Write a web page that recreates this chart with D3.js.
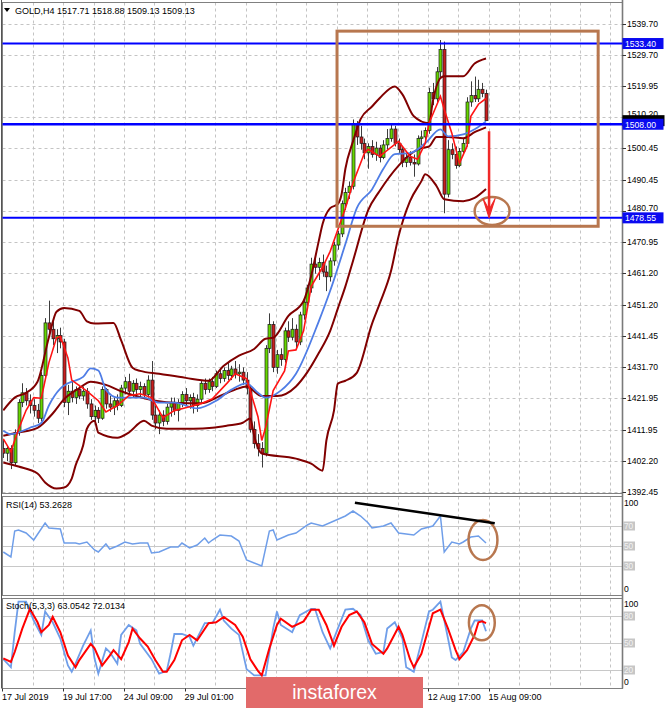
<!DOCTYPE html>
<html>
<head>
<meta charset="utf-8">
<script src="https://cdn.jsdelivr.net/npm/d3@7"></script>
<style>
html,body{margin:0;padding:0;background:#fff;}
svg{display:block;}
text{font-family:"Liberation Sans",Arial,sans-serif;}
</style>
</head>
<body>
<svg id="chart" width="665" height="708"></svg>
<script>
// ---------------- DATA ----------------
const symbolTitle = "GOLD,H4";
const lastQuote = ["1517.71", "1518.88", "1509.13", "1509.13"];

const opens = [1406,1404.5,1406,1401.5,1411,1420.5,1423.5,1421,1419.5,1418,
 1415.5,1429,1445.5,1443.5,1440.5,1441.5,1439.5,1420.5,1424,1422,
 1424.5,1422.5,1424,1420,1416,1418,1415.5,1424.5,1420,1419,
 1421,1419.5,1425,1427,1424,1426.5,1424.5,1425.5,1423,1427.5,
 1416.5,1414,1416.5,1414.5,1419,1420.5,1418,1420.5,1423,1421,
 1422,1419.5,1421.5,1426.5,1424.5,1427,1425.5,1429.5,1428,1430.5,
 1429,1431,1429.5,1430,1427.5,1425,1412,1407.5,1406,1404.5,
 1437.5,1445,1431.5,1435.5,1434,1443,1441,1443.5,1439.5,1448,
 1452,1456.5,1464,1463,1464.5,1461.5,1460,1465,1470,1473.5,
 1483,1486.5,1488.5,1508,1504,1502,1499,1501,1498.5,1500.5,
 1497.5,1501.5,1503.5,1506.5,1502,1500,1496,1497.5,1496,1495.5,
 1503.5,1504,1506,1518,1516,1524.5,1531.5,1486,1500,1498.5,
 1495,1499.5,1502,1515,1517,1516,1519,1517.71];
const highs = [1409,1407,1407,1412,1421.5,1426.5,1425,1423,1421.5,1420,
 1430,1447,1452.5,1446,1443.5,1444,1440.5,1426,1427,1425.5,
 1426,1425.5,1425,1421.5,1419.5,1419,1425.5,1425,1422.5,1422,
 1423,1426,1428.5,1429.5,1427.5,1428,1427,1426.5,1429,1433.5,
 1419.5,1418,1418,1420,1422,1422,1421.5,1424,1425,1423,
 1423.5,1423,1427.5,1428,1428,1428.5,1430.5,1431,1431.5,1433,
 1432,1433.5,1432.5,1431.5,1430,1426,1414.5,1410.5,1408,1438.5,
 1448.5,1446,1437,1437.5,1444,1446,1447,1445,1449,1453,
 1457.5,1466,1466.5,1466,1467,1463.5,1466,1471,1474.5,1484,
 1488,1490,1509.5,1509,1507.5,1503.5,1502,1503,1502.5,1501.5,
 1503,1506.5,1508,1507.5,1503.5,1501,1499,1499.5,1498.5,1504.5,
 1506,1507,1519.5,1521,1526,1534.5,1534,1503,1502,1501,
 1500.5,1503.5,1516.5,1521.5,1523,1522,1521,1518.88];
const lows = [1403,1402,1399.5,1400.5,1410,1419,1419.5,1417,1416,1414,
 1414.5,1428,1441,1438.5,1436,1437.5,1419,1416.5,1420.5,1420,
 1421.5,1421,1418.5,1415,1413.5,1414,1415,1418.5,1417.5,1416.5,
 1418,1419,1423,1422.5,1422,1423,1422,1421.5,1422,1415,
 1412,1410.5,1413,1413.5,1416,1416.5,1414.5,1419,1419.5,1418.5,
 1417,1417.5,1420.5,1423,1423.5,1424,1425,1426.5,1427,1427.5,
 1427.5,1428,1427,1426,1423,1411,1406,1403.5,1400,1403.5,
 1436,1430,1429.5,1432,1433,1439.5,1440,1437.5,1438.5,1446.5,
 1450,1455,1461,1459,1460,1455.5,1458.5,1463.5,1468.5,1472.5,
 1481,1484.5,1487.5,1501.5,1500,1497,1494,1497.5,1496.5,1496,
 1497,1500,1502.5,1501,1499,1494.5,1494.5,1495,1491.5,1495,
 1501.5,1502.5,1505,1514,1515,1522.5,1480,1485,1497,1494,
 1494.5,1498.5,1501,1513.5,1515,1515,1516.5,1509.13];
const closes = [1404.5,1406,1401.5,1411,1420.5,1423.5,1421,1419.5,1418,1415.5,
 1429,1445.5,1443.5,1440.5,1441.5,1439.5,1420.5,1424,1422,1424.5,
 1422.5,1424,1420,1416,1418,1415.5,1424.5,1420,1419,1421,
 1419.5,1425,1427,1424,1426.5,1424.5,1425.5,1423,1427.5,1416.5,
 1414,1416.5,1414.5,1419,1420.5,1418,1420.5,1423,1421,1422,
 1419.5,1421.5,1426.5,1424.5,1427,1425.5,1429.5,1428,1430.5,1429,
 1431,1429.5,1430,1427.5,1425,1412,1407.5,1406,1404.5,1437.5,
 1445,1431.5,1435.5,1434,1443,1441,1443.5,1439.5,1448,1452,
 1456.5,1464,1463,1464.5,1461.5,1460,1465,1470,1473.5,1483,
 1486.5,1488.5,1508,1504,1502,1499,1501,1498.5,1500.5,1497.5,
 1501.5,1503.5,1506.5,1502,1500,1496,1497.5,1496,1495.5,1503.5,
 1504,1506,1518,1516,1524.5,1531.5,1486,1500,1498.5,1495,
 1499.5,1502,1515,1517,1516,1519,1517.71,1509.13];

// indicator lines: [bar, value]
const bbUpper = [[0,1418],[3,1422],[6,1423.5],[9,1427],[12,1441],[14,1449],[16,1450.2],[20,1449.3],[22,1446],[24,1445.3],[29,1445.5],[31,1440],[34,1431.4],[36,1430.4],[41,1429.5],[48,1428.2],[54,1427.3],[58,1432],[62,1435.2],[66,1437.3],[69,1440.5],[71,1440.8],[75,1447.7],[79,1452.4],[81,1460.3],[83,1471.3],[84,1476.6],[86,1481.6],[88,1482.9],[89,1486],[90,1494],[92,1502.6],[94,1509.6],[97,1513.6],[99,1516.2],[103,1519.9],[105,1517.4],[108,1510.5],[112,1508.3],[113,1515.2],[115,1522.5],[116,1523.1],[121,1523.1],[124,1527.1],[127,1528.7]];
const bbMiddle = [[0,1410],[4,1411],[9,1412.5],[13,1417],[16,1421.5],[20,1425],[23,1427],[27,1426],[31,1424],[35,1422.5],[40,1421],[46,1420.3],[52,1420.2],[57,1422.5],[61,1424.5],[64,1425.5],[68,1422.5],[72,1422.5],[77,1425.5],[80,1430],[83,1436],[86,1443],[88,1450],[90,1457],[92,1465],[96,1481],[99,1487],[104,1495],[107,1498.5],[110,1500.5],[112,1501],[114,1504],[117,1504],[121,1503.6],[124,1505.5],[127,1507]];
const bbLower = [[0,1401.6],[4,1400.3],[9,1398.1],[11,1395.3],[14,1393.4],[16,1393.7],[18,1396.5],[19,1400.6],[21,1406.9],[22,1412.2],[24,1414.7],[25,1411],[30,1409.4],[33,1411],[37,1414.7],[39,1413.2],[43,1412.2],[50,1412.2],[55,1412.5],[59,1413.2],[63,1414.1],[65,1415.4],[66,1410],[68,1404.4],[77,1402.8],[81,1401.2],[84,1399],[85,1408.5],[87,1417.9],[88,1426.4],[90,1427.3],[93,1429.8],[97,1445.2],[99,1451.5],[102,1461.8],[104,1472.8],[107,1483.8],[110,1490.1],[111,1492.3],[114,1488.5],[116,1484.4],[121,1483.8],[124,1484.8],[127,1487.6]];
const maBlue = [[0,1411.6],[2,1410.5],[7,1412.5],[10,1414],[12,1419.5],[15,1424.8],[17,1426.5],[21,1428.5],[23,1431.2],[25,1430.5],[27,1424.5],[30,1422],[33,1422],[37,1422],[41,1420.4],[45,1420.4],[51,1418.6],[56,1421],[60,1424.5],[64,1426.5],[67,1423.5],[69,1422],[73,1424.2],[77,1429.5],[83,1446],[86,1455.6],[90,1470.3],[93,1481.6],[97,1487.5],[100,1494],[103,1498.6],[107,1498.9],[111,1502],[115,1506.4],[117,1504.2],[121,1504.8],[124,1506.4],[127,1508.9]];
const maRed = [[0,1409],[2,1405],[4,1412],[6,1418],[8,1422],[10,1421.8],[12,1433],[14,1440.8],[15,1441.2],[17,1434.5],[18,1427.5],[22,1424],[25,1421],[27,1417.5],[30,1419.5],[33,1422.6],[36,1423.2],[39,1422],[42,1415.7],[45,1417.9],[48,1418.8],[52,1420.1],[55,1421.6],[59,1426.7],[61,1429.5],[64,1428],[67,1416],[68,1408.5],[69,1412.5],[71,1424.2],[74,1430.4],[75,1436.7],[77,1437],[79,1443],[81,1457],[84,1463],[86,1468],[90,1481.6],[92,1489.5],[95,1498.9],[96,1500.1],[99,1497.9],[104,1502.6],[107,1497.9],[109,1497],[111,1502],[112,1508.3],[115,1516.8],[116,1512.7],[118,1505.2],[120,1495.7],[122,1501.1],[123,1510.5],[125,1514.3],[127,1516.1]];

const rsiValues = [[0,44],[2,39],[3,65],[4,66],[6,63],[8,56],[11,73],[12,68],[15,67],[16,53],[19,53],[20,52],[22,54],[24,46],[25,44],[27,52],[28,47],[30,50],[32,54],[34,52],[36,53],[38,53],[39,43],[41,44],[44,49],[46,49],[47,53],[49,48],[51,51],[53,58],[54,53],[55,56],[57,61],[60,60],[62,55],[64,36],[66,33],[68,30],[70,65],[71,66],[72,56],[75,61],[77,63],[80,71],[81,73],[84,70],[87,75],[90,80],[92,85],[94,80],[96,73],[97,68],[100,70],[102,73],[104,63],[108,61],[110,67],[113,70],[115,80],[116,44],[118,54],[120,52],[121,54],[123,59],[125,60],[127,53]];
const stochMain = [[0,32],[2,23],[3,62],[4,96],[6,96],[8,75],[10,59],[11,85],[13,73],[15,55],[17,25],[18,18],[19,27],[21,47],[23,64],[24,33],[25,16],[27,44],[28,40],[30,27],[31,59],[33,70],[35,64],[36,49],[39,32],[41,16],[43,19],[44,38],[45,60],[47,60],[49,57],[50,47],[53,72],[55,72],[57,87],[58,75],[60,66],[62,59],[64,21],[66,14],[69,14],[71,66],[72,85],[73,70],[76,62],[78,81],[81,88],[82,88],[84,62],[86,44],[88,66],[90,87],[92,88],[94,81],[96,53],[98,38],[100,40],[101,66],[103,73],[105,55],[106,23],[108,18],[110,51],[112,85],[113,87],[115,96],[117,55],[118,34],[119,31],[121,40],[123,66],[124,75],[125,75],[126,75],[127,63]];
const stochSignal = [[0,33],[2,29],[3,40],[5,66],[7,88],[9,73],[10,62],[12,70],[13,79],[15,62],[17,36],[19,23],[20,31],[23,49],[24,44],[26,25],[28,36],[29,42],[31,32],[33,51],[34,66],[36,55],[38,46],[40,31],[42,18],[43,18],[45,31],[47,53],[49,59],[51,53],[54,72],[56,73],[58,79],[61,70],[63,57],[65,32],[67,19],[68,14],[70,44],[72,70],[73,77],[76,68],[79,74],[81,87],[83,87],[85,70],[87,47],[89,68],[91,81],[93,85],[95,73],[97,49],[100,38],[101,44],[104,68],[105,59],[107,32],[108,23],[110,38],[112,68],[113,83],[115,87],[117,66],[119,42],[120,32],[122,42],[124,59],[125,73],[126,74],[127,72]];

const priceTicks = [1539.70,1529.70,1519.95,1510.20,1500.45,1490.45,1480.70,1470.95,1461.20,1451.20,1441.45,1431.70,1421.95,1411.95,1402.20,1392.45];
const levelPrices = [1533.40, 1508.00, 1478.55];
const bidPrice = 1509.13;
const dateBars = [0, 16, 32, 48, 112, 128];
const dateTexts = ["17 Jul 2019", "19 Jul 17:00", "24 Jul 09:00", "29 Jul 01:00", "12 Aug 17:00", "15 Aug 09:00"];
const rsiLevels = [70, 50, 30];
const stochLevels = [80, 50, 20];
const rsiLabel = "RSI(14) 53.2628";
const stochLabel = "Stoch(5,3,3) 63.0542 72.0134";
// annotations in data units
const boxBars = [87.8, 156.5], boxPrices = [1537.3, 1475.9];
const arrowBar = 127.8, arrowPrices = [1505.8, 1478.6];
const mainEllipse = {bar: 128.6, price: 1480.7, rb: 4.6, rp: 4.4};
const rsiEllipse = {bar: 126.2, value: 56, rb: 3.8, rv: 20};
const stochEllipse = {bar: 125.9, value: 72.5, rb: 3.4, rv: 19.5};
const rsiTrend = [[92.5, 93.3], [129.3, 72.7]];

// ---------------- LAYOUT ----------------
const svg = d3.select("#chart");
const L = 2.5, R = 622.5;
const main = {top: 2.5, bottom: 493.5};
const rsiP = {top: 496.5, bottom: 595.5};
const stP = {top: 598.5, bottom: 688.5};

const x = d3.scaleLinear().domain([0, 160]).range([3.3, 3.3 + 3.801 * 160]);
const y = d3.scaleLinear().domain([1392.45, 1539.70]).range([491.5, 23.5]);
const yR = d3.scaleLinear().domain([0, 100]).range([596, 496]);
const yS = d3.scaleLinear().domain([0, 100]).range([688, 598]);

svg.append("rect").attr("width", 665).attr("height", 708).attr("fill", "#fff");

const gridColor = "#c4c4c4";
const vBars = d3.range(8, 161, 8);
[[main.top, main.bottom], [rsiP.top, rsiP.bottom], [stP.top, stP.bottom]].forEach(([t, b]) => {
  svg.append("g").selectAll("line").data(vBars).join("line")
    .attr("x1", d => Math.round(x(d)) - 0.5).attr("x2", d => Math.round(x(d)) - 0.5)
    .attr("y1", t).attr("y2", b)
    .attr("stroke", gridColor).attr("stroke-dasharray", "3,3");
});
svg.append("g").selectAll("line").data(priceTicks).join("line")
  .attr("x1", L).attr("x2", R)
  .attr("y1", d => Math.round(y(d)) + 0.5).attr("y2", d => Math.round(y(d)) + 0.5)
  .attr("stroke", gridColor).attr("stroke-dasharray", "3,3");

svg.append("g").selectAll("line").data(rsiLevels).join("line")
  .attr("x1", L).attr("x2", R).attr("y1", d => yR(d) + 0.5).attr("y2", d => yR(d) + 0.5)
  .attr("stroke", "#c8c8c8").attr("stroke-width", 1.2);
svg.append("g").selectAll("line").data(stochLevels).join("line")
  .attr("x1", L).attr("x2", R).attr("y1", d => Math.round(yS(d)) + 0.5).attr("y2", d => Math.round(yS(d)) + 0.5)
  .attr("stroke", "#c8c8c8").attr("stroke-width", 1.2);

// ---------------- CANDLES ----------------
const idx = d3.range(opens.length);
const cg = svg.append("g");
cg.selectAll("line").data(idx).join("line")
  .attr("x1", i => Math.round(x(i)) + 0.5).attr("x2", i => Math.round(x(i)) + 0.5)
  .attr("y1", i => y(highs[i])).attr("y2", i => y(lows[i]))
  .attr("stroke", "#3c3c3c").attr("stroke-width", 1);
cg.selectAll("rect").data(idx).join("rect")
  .attr("x", i => Math.round(x(i)) - 1)
  .attr("width", 3)
  .attr("y", i => y(Math.max(opens[i], closes[i])))
  .attr("height", i => Math.max(1, Math.abs(y(opens[i]) - y(closes[i]))))
  .attr("fill", i => closes[i] >= opens[i] ? "#66d600" : "#c81e1e")
  .attr("stroke", "#1a1a1a").attr("stroke-width", 0.7);

// ---------------- INDICATORS ----------------
const lineMain = d3.line().x(d => x(d[0])).y(d => y(d[1])).curve(d3.curveMonotoneX);
[bbUpper, bbMiddle, bbLower].forEach(s => {
  svg.append("path").datum(s).attr("d", lineMain).attr("fill", "none")
    .attr("stroke", "#800000").attr("stroke-width", 2);
});
svg.append("path").datum(maBlue).attr("d", lineMain).attr("fill", "none")
  .attr("stroke", "#4f7de6").attr("stroke-width", 1.8);
svg.append("path").datum(maRed).attr("d", d3.line().x(d => x(d[0])).y(d => y(d[1])))
  .attr("fill", "none").attr("stroke", "#ff1414").attr("stroke-width", 1.6);

const lineR = d3.line().x(d => x(d[0])).y(d => yR(d[1]));
svg.append("path").datum(rsiValues).attr("d", lineR).attr("fill", "none")
  .attr("stroke", "#6f9ee9").attr("stroke-width", 1.5);
const lineS = d3.line().x(d => x(d[0])).y(d => yS(d[1]));
svg.append("path").datum(stochMain).attr("d", lineS).attr("fill", "none")
  .attr("stroke", "#6f9ee9").attr("stroke-width", 1.8);
svg.append("path").datum(stochSignal).attr("d", lineS).attr("fill", "none")
  .attr("stroke", "#ff0000").attr("stroke-width", 2);

// ---------------- PANEL FRAMES ----------------
[[main.top, main.bottom], [rsiP.top, rsiP.bottom], [stP.top, stP.bottom]].forEach(([t, b]) => {
  svg.append("rect").attr("x", L).attr("y", t).attr("width", R - L).attr("height", b - t)
    .attr("fill", "none").attr("stroke", "#808080").attr("stroke-width", 1);
});
svg.append("line").attr("x1", R).attr("x2", R).attr("y1", 0).attr("y2", stP.bottom)
  .attr("stroke", "#7a7a7a").attr("stroke-width", 1.6);
svg.append("line").attr("x1", 1.5).attr("x2", 1.5).attr("y1", 0).attr("y2", stP.bottom)
  .attr("stroke", "#555").attr("stroke-width", 1);

// ---------------- AXES TEXT ----------------
const axisFont = 8.6;
const labelBase = p => y(p) + 3.2;
// a tick label that collides with a level box is nudged up so it stays readable above it
function tickBase(p) {
  let b = labelBase(p);
  levelPrices.forEach(lp => {
    const lb = y(lp) + 3.3;
    if (Math.abs(lb - b) < 10.5) b = Math.min(b, lb - 10.5);
  });
  return b;
}
const ptg = svg.append("g");
ptg.selectAll("line").data(priceTicks).join("line")
  .attr("x1", R).attr("x2", R + 3.5).attr("y1", d => Math.round(y(d)) + 0.5).attr("y2", d => Math.round(y(d)) + 0.5)
  .attr("stroke", "#333");
ptg.selectAll("text").data(priceTicks).join("text")
  .attr("x", 627).attr("y", d => tickBase(d))
  .attr("font-size", axisFont).attr("fill", "#000")
  .text(d => d.toFixed(2));

svg.append("rect").attr("x", R).attr("y", y(bidPrice) - 5.5).attr("width", 42).attr("height", 11).attr("fill", "#000");
levelPrices.forEach(p => {
  svg.append("line").attr("x1", L).attr("x2", R).attr("y1", y(p)).attr("y2", y(p))
    .attr("stroke", "#0000ff").attr("stroke-width", p === 1508.00 ? 2.6 : 2);
  svg.append("rect").attr("x", R).attr("y", y(p) - 5.5).attr("width", 41).attr("height", 11).attr("fill", "#0a0af0");
  svg.append("text").attr("x", 625).attr("y", y(p) + 3.3).attr("font-size", axisFont)
    .attr("fill", "#fff").text(p.toFixed(2));
});

function levelBoxes(levels, sc) {
  levels.forEach(v => {
    svg.append("rect").attr("x", 623).attr("y", sc(v) - 4.5).attr("width", 12).attr("height", 9).attr("fill", "#c6c6c6");
    svg.append("text").attr("x", 624).attr("y", sc(v) + 3).attr("font-size", 8.3).attr("fill", "#f2f2f2").text(v);
  });
}
levelBoxes(rsiLevels, yR);
levelBoxes(stochLevels, yS);
svg.append("text").attr("x", 624).attr("y", yR(100) + 10).attr("font-size", axisFont).text("100");
svg.append("text").attr("x", 624).attr("y", yR(0) - 4).attr("font-size", axisFont).text("0");
svg.append("text").attr("x", 624).attr("y", yS(100) + 9).attr("font-size", axisFont).text("100");
svg.append("text").attr("x", 624).attr("y", yS(0) - 3).attr("font-size", axisFont).text("0");

const dg = svg.append("g");
dg.selectAll("line").data(dateBars).join("line")
  .attr("x1", d => Math.round(x(d)) - 0.5).attr("x2", d => Math.round(x(d)) - 0.5)
  .attr("y1", stP.bottom).attr("y2", stP.bottom + 3).attr("stroke", "#333");
dg.selectAll("text").data(dateBars).join("text")
  .attr("x", d => x(d) - 1.3).attr("y", 700).attr("font-size", 9).attr("fill", "#000")
  .text((d, i) => dateTexts[i]);

svg.append("path").attr("d", "M4,8 L10,8 L7,12 Z").attr("fill", "#000");
svg.append("text").attr("x", 15).attr("y", 13.5).attr("font-size", 9).attr("fill", "#000")
  .text(symbolTitle + "  " + lastQuote.join(" "));
svg.append("text").attr("x", 6).attr("y", 508).attr("font-size", 9).attr("fill", "#000").text(rsiLabel);
svg.append("text").attr("x", 6).attr("y", 609).attr("font-size", 9).attr("fill", "#000").text(stochLabel);

// ---------------- ANNOTATIONS ----------------
const brown = "#b8774f";
svg.append("rect")
  .attr("x", x(boxBars[0])).attr("y", y(boxPrices[0]))
  .attr("width", x(boxBars[1]) - x(boxBars[0])).attr("height", y(boxPrices[1]) - y(boxPrices[0]))
  .attr("fill", "none").attr("stroke", brown).attr("stroke-width", 3);
svg.append("ellipse").attr("cx", x(mainEllipse.bar)).attr("cy", y(mainEllipse.price))
  .attr("rx", x(mainEllipse.rb) - x(0)).attr("ry", y(0) - y(mainEllipse.rp))
  .attr("fill", "none").attr("stroke", brown).attr("stroke-width", 2.5);
svg.append("ellipse").attr("cx", x(rsiEllipse.bar)).attr("cy", yR(rsiEllipse.value))
  .attr("rx", x(rsiEllipse.rb) - x(0)).attr("ry", yR(0) - yR(rsiEllipse.rv))
  .attr("fill", "none").attr("stroke", brown).attr("stroke-width", 2.5);
svg.append("ellipse").attr("cx", x(stochEllipse.bar)).attr("cy", yS(stochEllipse.value))
  .attr("rx", x(stochEllipse.rb) - x(0)).attr("ry", yS(0) - yS(stochEllipse.rv))
  .attr("fill", "none").attr("stroke", brown).attr("stroke-width", 2.5);

const ax = x(arrowBar), ay0 = y(arrowPrices[0]), ay1 = y(arrowPrices[1]);
svg.append("line").attr("x1", ax).attr("x2", ax).attr("y1", ay0).attr("y2", ay1 - 4)
  .attr("stroke", "#f02828").attr("stroke-width", 2.5);
svg.append("path").attr("d", `M${ax - 6},${ay1 - 19} L${ax},${ay1} L${ax + 6},${ay1 - 19} L${ax},${ay1 - 8} Z`)
  .attr("fill", "#f02828").attr("stroke", "#f02828").attr("stroke-width", 1.2).attr("stroke-linejoin", "round");

svg.append("line")
  .attr("x1", x(rsiTrend[0][0])).attr("y1", yR(rsiTrend[0][1]))
  .attr("x2", x(rsiTrend[1][0])).attr("y2", yR(rsiTrend[1][1]))
  .attr("stroke", "#000").attr("stroke-width", 2.5);

svg.append("rect").attr("x", 246).attr("y", 677).attr("width", 177).attr("height", 31).attr("fill", "#e26a6a");
svg.append("text").attr("x", 334.5).attr("y", 699).attr("text-anchor", "middle")
  .attr("font-size", 19.5).attr("fill", "#fff")
  .text("instaforex");
</script>
</body>
</html>
